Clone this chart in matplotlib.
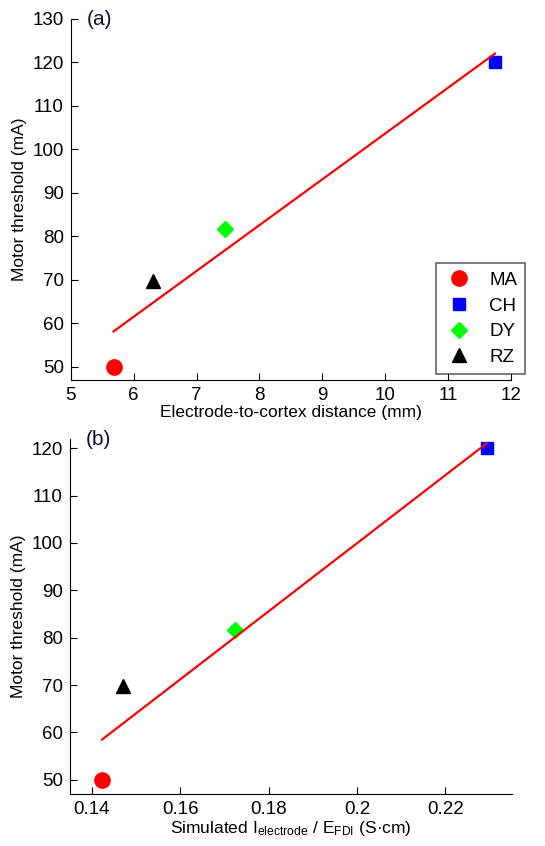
# Motor threshold vs. electrode distance and simulated current ratio.
import numpy as np
import matplotlib.pyplot as plt

plt.rcParams['font.family'] = ['Liberation Sans', 'DejaVu Sans']
plt.rcParams['mathtext.fontset'] = 'custom'
plt.rcParams['mathtext.rm'] = 'Liberation Sans'

# Subjects and their values.
subjects = ['MA', 'CH', 'DY', 'RZ']
threshold_ma = [50.0, 120.0, 81.7, 69.8]
distance_mm = [5.68, 11.75, 7.45, 6.30]
current_ratio = [0.1423, 0.2293, 0.1724, 0.1471]

colors = ['#ff0000', '#0000ff', '#00ff00', '#000000']
markers = ['o', 's', 'D', '^']
sizes = [11, 8.5, 8, 10]

fig = plt.figure(figsize=(5.45, 8.46), dpi=100)
ax_a = fig.add_axes([0.130, 0.551, 0.807, 0.427])
ax_b = fig.add_axes([0.128, 0.0615, 0.811, 0.420])


def draw_panel(ax, x, label):
    for xi, yi, name, c, m, s in zip(x, threshold_ma, subjects, colors, markers, sizes):
        ax.plot(xi, yi, linestyle='none', marker=m, color=c, markersize=s, label=name)
    # least squares line across the data range
    slope, icpt = np.polyfit(x, threshold_ma, 1)
    xs = np.array([min(x), max(x)])
    ax.plot(xs, slope * xs + icpt, color='#ff0000', linewidth=1.6)
    ax.text(0.036, 1.025, label, transform=ax.transAxes, fontsize=15,
            va='top', ha='left', color='#101030')
    ax.spines['top'].set_visible(False)
    ax.spines['right'].set_visible(False)
    ax.tick_params(direction='in', labelsize=13.5, length=5, pad=5)
    ax.set_ylabel('Motor threshold (mA)', fontsize=12.5)


draw_panel(ax_a, distance_mm, '(a)')
ax_a.set_xlim(5, 12)
ax_a.set_ylim(47, 130)
ax_a.set_xticks(range(5, 13))
ax_a.set_yticks(range(50, 131, 10))
ax_a.set_xlabel('Electrode-to-cortex distance (mm)', fontsize=12.5, labelpad=1)
leg = ax_a.legend(loc='lower right', bbox_to_anchor=(1.055, -0.01), fontsize=13.5,
                  frameon=True, fancybox=False, edgecolor='#404040',
                  handletextpad=0.8, labelspacing=0.45, borderpad=0.45,
                  handlelength=1.6)
leg.get_frame().set_linewidth(1.2)

draw_panel(ax_b, current_ratio, '(b)')
ax_b.set_xlim(0.135, 0.235)
ax_b.set_ylim(47, 122)
ax_b.set_xticks([0.14, 0.16, 0.18, 0.2, 0.22])
ax_b.set_xticklabels(['0.14', '0.16', '0.18', '0.2', '0.22'])
ax_b.set_yticks(range(50, 121, 10))
ax_b.set_xlabel(r'Simulated $\mathregular{I_{electrode}}$ / $\mathregular{E_{FDI}}$ (S·cm)',
                fontsize=12.5, labelpad=1)

fig.savefig('out.png', dpi=100)
